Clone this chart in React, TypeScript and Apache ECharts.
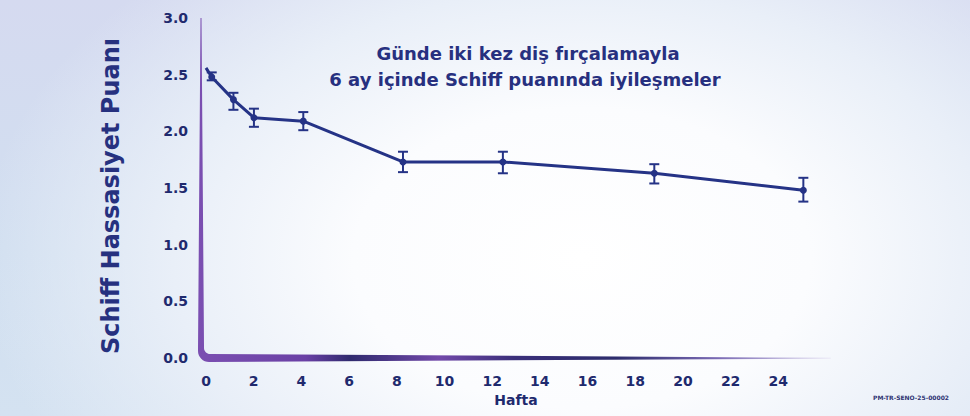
import React, { useEffect, useRef } from "react";
import * as echarts from "echarts";

// ---- data ----
const weeks = [0.24, 1.15, 2.01, 4.08, 8.26, 12.45, 18.8, 25.05];
const scores = [2.48, 2.28, 2.12, 2.09, 1.73, 1.73, 1.63, 1.48];
const errLow = [2.45, 2.19, 2.04, 2.01, 1.64, 1.63, 1.54, 1.38];
const errHigh = [2.52, 2.34, 2.2, 2.17, 1.82, 1.82, 1.71, 1.59];
const lineStart = [0, 2.56];
const titleLines = ["Günde iki kez diş fırçalamayla", "6 ay içinde Schiff puanında iyileşmeler"];
const yAxisName = "Schiff Hassasiyet Puanı";
const xAxisName = "Hafta";
const footnote = "PM-TR-SENO-25-00002";

const NAVY = "#253386";
const TEXT = "#1f2a6e";
const FONT = "'DejaVu Sans', 'Open Sans', sans-serif";

export default function App() {
  const ref = useRef<HTMLDivElement>(null);

  useEffect(() => {
    if (!ref.current) return;
    const chart = echarts.init(ref.current, null, { renderer: "svg" });

    const lineData: any[] = [
      { value: lineStart, symbol: "none" },
      ...weeks.map((w, i) => [w, scores[i]]),
    ];
    const errData = weeks.map((w, i) => [w, errLow[i], errHigh[i]]);

    chart.setOption({
      animation: false,
      backgroundColor: "transparent",
      grid: { left: 206, right: 144, top: 18, bottom: 58 },
      xAxis: {
        type: "value",
        min: 0,
        max: 26,
        interval: 2,
        name: xAxisName,
        nameLocation: "middle",
        nameGap: 35,
        nameTextStyle: { color: TEXT, fontFamily: FONT, fontWeight: 700, fontSize: 14 },
        axisLine: { show: false },
        axisTick: { show: false },
        splitLine: { show: false },
        axisLabel: {
          color: TEXT,
          fontFamily: FONT,
          fontWeight: 700,
          fontSize: 14,
          margin: 16,
          formatter: (v: number) => (v > 24 ? "" : String(v)),
        },
      },
      yAxis: {
        type: "value",
        min: 0,
        max: 3,
        interval: 0.5,
        axisLine: { show: false },
        axisTick: { show: false },
        splitLine: { show: false },
        axisLabel: {
          color: TEXT,
          fontFamily: FONT,
          fontWeight: 700,
          fontSize: 14,
          margin: 18,
          formatter: (v: number) => v.toFixed(1),
        },
      },
      series: [
        {
          type: "line",
          data: lineData,
          symbol: "circle",
          symbolSize: 7,
          lineStyle: { color: NAVY, width: 3 },
          itemStyle: { color: NAVY },
          z: 3,
        },
        {
          type: "custom",
          data: errData,
          z: 4,
          renderItem: (params: any, api: any) => {
            const x = api.value(0);
            const top = api.coord([x, api.value(2)]);
            const bot = api.coord([x, api.value(1)]);
            const hw = 5;
            const style = { stroke: NAVY, lineWidth: 2 };
            return {
              type: "group",
              children: [
                { type: "line", shape: { x1: top[0], y1: top[1], x2: bot[0], y2: bot[1] }, style },
                { type: "line", shape: { x1: top[0] - hw, y1: top[1], x2: top[0] + hw, y2: top[1] }, style },
                { type: "line", shape: { x1: bot[0] - hw, y1: bot[1], x2: bot[0] + hw, y2: bot[1] }, style },
              ],
            };
          },
        },
      ],
    });

    // decorative tapered L-shaped axis, positioned from the chart's own scales
    const o = chart.convertToPixel({ gridIndex: 0 }, [0, 0]) as number[];
    const t = chart.convertToPixel({ gridIndex: 0 }, [0, 3]) as number[];
    const e = chart.convertToPixel({ gridIndex: 0 }, [26.2, 0]) as number[];
    const xc = o[0] - 5;
    const y0 = o[1];
    const pts: number[][] = [];
    pts.push([xc - 0.5, t[1]]);
    pts.push([xc - 3, y0 - 8]);
    const R = 11;
    const ocx = xc - 3 + R;
    const ocy = y0 + 4 - R;
    for (let k = 0; k <= 8; k++) {
      const a = (k / 8) * (Math.PI / 2);
      pts.push([ocx - R * Math.cos(a), ocy + R * Math.sin(a)]);
    }
    pts.push([e[0], y0 + 0.5]);
    pts.push([e[0], y0 - 0.2]);
    const r = 6;
    const icx = xc + 3 + r;
    const icy = y0 - 4 - r;
    for (let k = 0; k <= 8; k++) {
      const a = (k / 8) * (Math.PI / 2);
      pts.push([icx - r * Math.sin(a), icy + r * Math.cos(a)]);
    }
    pts.push([xc + 3, y0 - 12]);
    pts.push([xc + 0.5, t[1]]);

    chart.setOption({
      graphic: [
        {
          type: "polygon",
          shape: { points: pts },
          z: 1,
          style: {
            fill: new echarts.graphic.LinearGradient(0, 0, 1, 0, [
              { offset: 0, color: "#7b4fb1" },
              { offset: 0.17, color: "#6a40a5" },
              { offset: 0.24, color: "#2f2a6e" },
              { offset: 0.38, color: "#7249aa" },
              { offset: 0.5, color: "#3a2f7a" },
              { offset: 0.66, color: "#2c2c6c" },
              { offset: 0.82, color: "#7a6ab4" },
              { offset: 1, color: "#e6e2f4" },
            ]),
          },
        },
        {
          type: "text",
          x: 111,
          y: 196,
          rotation: Math.PI / 2,
          style: {
            text: yAxisName,
            fill: "#26317f",
            font: `700 24px ${FONT}`,
            textAlign: "center",
            textVerticalAlign: "middle",
          },
        },
        {
          type: "text",
          x: 528,
          y: 53,
          style: {
            text: titleLines[0],
            fill: "#27307f",
            font: `700 18px ${FONT}`,
            textAlign: "center",
            textVerticalAlign: "middle",
          },
        },
        {
          type: "text",
          x: 525,
          y: 79,
          style: {
            text: titleLines[1],
            fill: "#27307f",
            font: `700 18px ${FONT}`,
            textAlign: "center",
            textVerticalAlign: "middle",
          },
        },
        {
          type: "text",
          x: 911,
          y: 397,
          style: {
            text: footnote,
            fill: "#2d3272",
            font: `700 6px ${FONT}`,
            textAlign: "center",
            textVerticalAlign: "middle",
          },
        },
      ],
    });

    return () => chart.dispose();
  }, []);

  return (
    <div
      style={{
        position: "fixed",
        left: 0,
        top: 0,
        width: 970,
        height: 416,
        background:
          "radial-gradient(ellipse 62% 95% at 60% 62%, #ffffff 0%, #fbfcfe 38%, #e9eff8 68%, rgba(211,221,239,0) 100%), linear-gradient(180deg, #d5daf0 0%, #d1dff0 60%, #d4e2f1 100%)",
      }}
    >
      <div ref={ref} style={{ width: 970, height: 416 }} />
    </div>
  );
}
